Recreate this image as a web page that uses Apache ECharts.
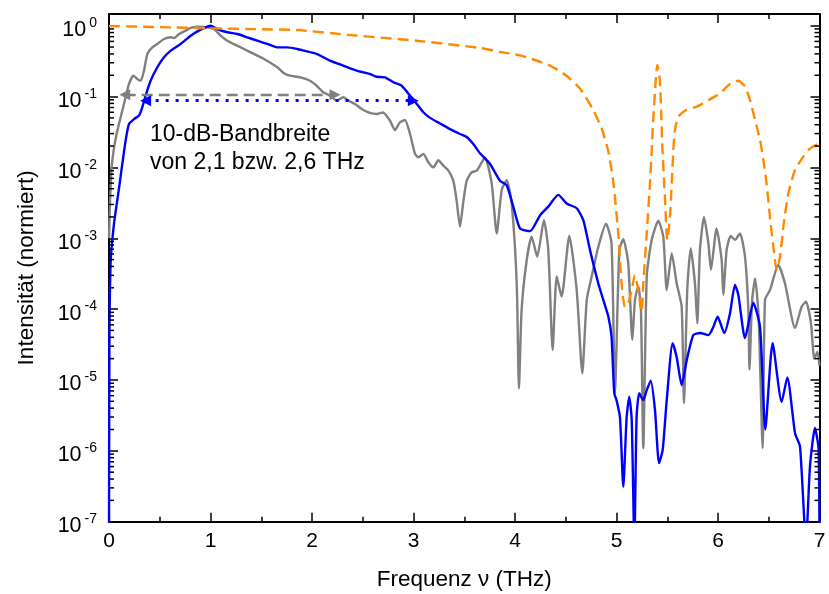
<!DOCTYPE html>
<html><head><meta charset="utf-8">
<script src="https://cdn.jsdelivr.net/npm/echarts@6/dist/echarts.min.js"></script>
<style>html,body{margin:0;padding:0;background:#fff}#c{width:829px;height:594px}</style>
</head><body><div id="c"></div>
<script>
// ---- data (frequency in THz, normalized intensity) ----
const grayFreq = [0,0.01,0.026,0.05,0.076,0.10,0.148,0.197,0.24,0.279,0.312,0.345,0.378,0.427,0.476,0.542,0.608,0.64,0.69,0.755,0.805,0.887,0.97,1.034,1.1,1.165,1.264,1.396,1.527,1.658,1.724,1.783,1.882,1.98,2.046,2.111,2.177,2.243,2.308,2.358,2.424,2.49,2.555,2.637,2.70,2.768,2.818,2.867,2.916,2.966,3.015,3.048,3.097,3.146,3.195,3.245,3.293,3.343,3.392,3.425,3.458,3.49,3.524,3.573,3.623,3.664,3.704,3.77,3.82,3.869,3.918,3.967,4.017,4.039,4.065,4.115,4.164,4.219,4.285,4.328,4.371,4.411,4.459,4.535,4.608,4.663,4.707,4.756,4.821,4.897,4.951,4.985,5.028,5.067,5.116,5.156,5.182,5.215,5.241,5.264,5.298,5.347,5.412,5.461,5.495,5.544,5.593,5.642,5.665,5.697,5.731,5.773,5.796,5.822,5.862,5.905,5.931,5.986,6.036,6.052,6.085,6.125,6.167,6.217,6.266,6.299,6.31,6.335,6.365,6.40,6.44,6.463,6.512,6.594,6.66,6.759,6.824,6.867,6.916,6.949,6.98,7.0];
const grayVals = [1.0e-3,3.2e-3,1.0e-2,1.9e-2,3.0e-2,4.2e-2,7.9e-2,0.151,0.197,0.177,0.167,0.232,0.399,0.495,0.552,0.649,0.686,0.67,0.764,0.851,0.929,0.968,0.948,0.897,0.723,0.614,0.522,0.421,0.339,0.259,0.213,0.197,0.187,0.167,0.142,0.115,0.103,0.0875,0.0977,0.0875,0.0785,0.0668,0.06,0.0568,0.0596,0.0457,0.0337,0.0434,0.0467,0.0296,0.0155,0.0139,0.0155,0.0118,0.010,0.0126,0.0106,0.0091,0.0065,0.0034,0.00146,0.0032,0.0065,0.0085,0.009,0.0112,0.0138,0.006,0.00117,0.0048,0.0066,0.0031,2.3e-4,7.6e-6,9.7e-5,4.9e-4,1.05e-3,5.5e-4,1.8e-3,6.8e-4,2.65e-5,2.9e-4,1.5e-4,1.08e-3,1.86e-4,1.24e-5,1.35e-4,2.9e-4,7.6e-4,1.6e-3,8.5e-4,6.5e-6,6.8e-4,9.7e-4,4.4e-4,3.7e-5,1.35e-4,2.1e-4,9.7e-5,1.09e-6,2.9e-4,9.5e-4,1.77e-3,1.05e-3,1.86e-4,6.1e-4,2.3e-4,1.08e-4,4.7e-6,1.86e-4,7.2e-4,2.3e-4,6.3e-5,6.8e-4,2.0e-3,8.5e-4,3.6e-4,1.38e-3,4.9e-4,1.6e-4,6.8e-4,1.08e-3,9.5e-4,1.17e-3,5.5e-4,9.7e-5,1.4e-5,1.26e-4,2.7e-4,7.9e-5,1.09e-6,1.35e-4,1.86e-4,4.2e-4,2.3e-4,5.4e-5,1.08e-4,1.27e-4,6.3e-5,2.0e-5,2.5e-5,1.6e-5];

const blueFreq = [0,0.004,0.016,0.049,0.098,0.131,0.164,0.197,0.246,0.296,0.328,0.361,0.41,0.476,0.542,0.608,0.706,0.805,0.903,1.0,1.067,1.165,1.264,1.362,1.461,1.559,1.658,1.757,1.855,1.921,2.046,2.177,2.308,2.44,2.571,2.637,2.719,2.801,2.883,2.966,3.032,3.097,3.163,3.261,3.36,3.458,3.524,3.589,3.655,3.754,3.852,3.918,3.983,4.049,4.148,4.246,4.328,4.426,4.509,4.608,4.673,4.739,4.821,4.87,4.92,4.951,4.978,5.0,5.034,5.067,5.1,5.126,5.15,5.176,5.198,5.224,5.264,5.298,5.337,5.379,5.419,5.455,5.495,5.553,5.593,5.642,5.692,5.757,5.823,5.905,5.954,5.996,6.062,6.118,6.167,6.2,6.266,6.348,6.414,6.466,6.538,6.627,6.683,6.759,6.808,6.867,6.906,6.955,6.99,7.0];
const blueVals = [3e-8,3.2e-5,4.5e-4,1.6e-3,5.0e-3,0.0112,0.024,0.041,0.048,0.054,0.0705,0.103,0.167,0.259,0.358,0.444,0.552,0.723,0.88,1.0,0.897,0.807,0.764,0.686,0.614,0.552,0.495,0.495,0.469,0.444,0.399,0.321,0.273,0.232,0.208,0.19,0.187,0.159,0.142,0.103,0.0785,0.06,0.05,0.0417,0.0347,0.0296,0.0269,0.0214,0.0158,0.0112,0.0065,0.0056,0.0028,1.38e-3,1.26e-3,2.1e-3,2.8e-3,4.1e-3,3.1e-3,2.65e-3,1.8e-3,6.8e-4,2.3e-4,1.35e-4,7.8e-5,4.1e-5,6.5e-6,5.2e-6,3.0e-6,3.1e-7,3.0e-6,5.8e-6,2.7e-6,5e-8,3.0e-6,6.5e-6,5.2e-6,7.2e-6,9.8e-6,3.8e-6,6.7e-7,1.03e-6,5.2e-6,3.3e-5,2.1e-5,8.5e-6,1.9e-5,4.3e-5,4.6e-5,4.3e-5,5.6e-5,7.8e-5,4.6e-5,8.7e-5,2.2e-4,1.6e-4,3.9e-5,1.23e-4,5.6e-5,2.0e-6,3.3e-5,4.9e-6,1.09e-5,1.77e-6,1.15e-6,5e-8,6.0e-7,2.1e-6,1.1e-6,5e-8];

const orangeFreq = [0,0.5,1.0,1.5,1.85,2.4,3.03,3.655,3.85,4.05,4.33,4.5,4.64,4.77,4.854,4.92,4.97,5.02,5.05,5.083,5.11,5.15,5.18,5.21,5.248,5.264,5.298,5.33,5.347,5.36,5.389,5.402,5.424,5.44,5.45,5.478,5.5,5.527,5.544,5.56,5.576,5.61,5.69,5.79,5.921,6.02,6.118,6.2,6.266,6.315,6.365,6.414,6.447,6.478,6.512,6.545,6.578,6.611,6.644,6.693,6.759,6.841,6.89,6.99,7.0];
const orangeVals = [0.99,0.955,0.918,0.89,0.869,0.733,0.614,0.484,0.427,0.38,0.28,0.2,0.13,0.065,0.0356,0.0166,0.006,1.05e-3,2.3e-4,1.08e-4,1.15e-4,1.86e-4,3.0e-4,2.0e-4,9.2e-5,2.3e-4,1.17e-3,6.0e-3,0.0176,0.042,0.19,0.279,0.19,0.065,0.0219,3.5e-3,9.5e-4,2.0e-3,6.0e-3,0.0176,0.0337,0.052,0.065,0.072,0.0914,0.111,0.15,0.167,0.138,0.0893,0.0467,0.0244,0.0127,6.0e-3,2.0e-3,7.6e-4,3.6e-4,5.5e-4,1.46e-3,4.3e-3,9.2e-3,0.0142,0.0176,0.0219,0.023];

// 10-dB bandwidth arrows: [start, end] in THz and level
const grayBand = [0.155, 2.227];
const grayBandLevel = 0.106;
const blueBand = [0.361, 2.998];
const blueBandLevel = 0.0875;

const xTickValues = [0,1,2,3,4,5,6,7];
const yDecades = [-7,-6,-5,-4,-3,-2,-1,0];
const annotationLines = ['10-dB-Bandbreite', 'von 2,1 bzw. 2,6 THz'];
const xTitle = 'Frequenz \u03bd (THz)';
const yTitle = 'Intensit\u00e4t (normiert)';

// ---- build ----
const zip = (a, b) => a.map((v, i) => [v, b[i]]);
const minorVals = [];
yDecades.forEach(d => { if (d < 0) for (let k = 2; k <= 9; k++) minorVals.push([0, k * Math.pow(10, d)]); });

const FONT = '"Liberation Sans", Arial, sans-serif';
const yMin = 1e-7, yMax = 1.462;

function yLabel(v) {
  const l = Math.log10(v);
  const e = Math.round(l);
  if (Math.abs(l - e) > 1e-6 || yDecades.indexOf(e) < 0) return '';
  return '{b|10}{s|' + e + '}';
}

const xAxisBase = {
  type: 'value', min: 0, max: 7, interval: 1,
  axisLine: { show: true, onZero: false, lineStyle: { color: '#000', width: 2 } },
  axisTick: { show: true, inside: true, length: 9, lineStyle: { color: '#000', width: 1.5 } },
  minorTick: { show: true, splitNumber: 2, length: 5, lineStyle: { color: '#000', width: 1.5 } },
  splitLine: { show: false }, minorSplitLine: { show: false }
};
const yAxisBase = {
  type: 'log', logBase: 10, min: yMin, max: yMax,
  axisLine: { show: true, onZero: false, lineStyle: { color: '#000', width: 2 } },
  axisTick: { show: true, inside: true, length: 9, lineStyle: { color: '#000', width: 1.5 } },
  minorTick: { show: false },
  splitLine: { show: false }
};

const option = {
  animation: false,
  backgroundColor: '#fff',
  textStyle: { fontFamily: FONT },
  grid: { left: 109, right: 9.5, top: 14, bottom: 72.3, containLabel: false, outerBoundsMode: 'none' },
  xAxis: [
    Object.assign({}, xAxisBase, {
      position: 'bottom',
      axisLabel: { show: true, color: '#000', fontSize: 21, fontFamily: FONT, margin: 9,
        formatter: v => (xTickValues.indexOf(v) >= 0 ? String(v) : '') },
      name: xTitle, nameLocation: 'middle', nameGap: 47,
      nameTextStyle: { color: '#000', fontSize: 22.5, fontFamily: FONT }
    }),
    Object.assign({}, xAxisBase, { position: 'top', axisLabel: { show: false } })
  ],
  yAxis: [
    Object.assign({}, yAxisBase, {
      position: 'left',
      axisLabel: { show: true, margin: 12, formatter: yLabel, align: 'right', padding: [6, 0, 0, 0],
        rich: {
          b: { fontSize: 21.5, color: '#000', fontFamily: FONT, verticalAlign: 'bottom', lineHeight: 25 },
          s: { fontSize: 14, color: '#000', fontFamily: FONT, verticalAlign: 'top', lineHeight: 25, padding: [0, 0, 0, 3] }
        } },
      name: yTitle, nameLocation: 'middle', nameGap: 71, nameRotate: 90,
      nameTextStyle: { color: '#000', fontSize: 22.5, fontFamily: FONT }
    }),
    Object.assign({}, yAxisBase, { position: 'right', axisLabel: { show: false } })
  ],
  series: [
    {
      type: 'line', name: 'gray', data: zip(grayFreq, grayVals), showSymbol: false, symbol: 'none',
      smooth: 0.2, lineStyle: { color: '#808080', width: 2.4 }, z: 2, silent: true,
      markLine: {
        silent: true, symbol: ['triangle', 'triangle'], symbolSize: 11,
        label: { show: false },
        lineStyle: { color: '#808080', width: 2.4, type: [11, 6] },
        itemStyle: { color: '#808080' },
        data: [[{ coord: [grayBand[0], grayBandLevel] }, { coord: [grayBand[1], grayBandLevel] }]]
      }
    },
    {
      type: 'line', name: 'blue', data: zip(blueFreq, blueVals), showSymbol: false, symbol: 'none',
      smooth: 0.2, lineStyle: { color: '#0000ff', width: 2.4 }, z: 3, silent: true,
      markLine: {
        silent: true, symbol: ['triangle', 'triangle'], symbolSize: 11,
        label: { show: false },
        lineStyle: { color: '#0000ff', width: 3, type: [3, 7] },
        itemStyle: { color: '#0000ff' },
        data: [[{ coord: [blueBand[0], blueBandLevel] }, { coord: [blueBand[1], blueBandLevel] }]]
      }
    },
    {
      type: 'line', name: 'orange', data: zip(orangeFreq, orangeVals), showSymbol: false, symbol: 'none',
      smooth: 0.2, lineStyle: { color: '#ff8a00', width: 2.4, type: [11, 6] }, z: 4, silent: true
    },
    {
      type: 'custom', name: 'minorTicks', xAxisIndex: 0, yAxisIndex: 0, silent: true, clip: false, z: 10,
      data: minorVals,
      renderItem: function (params, api) {
        const v = api.value(1);
        const p1 = api.coord([0, v]);
        const p2 = api.coord([7, v]);
        const st = { stroke: '#000', lineWidth: 1.5 };
        return { type: 'group', children: [
          { type: 'line', shape: { x1: p1[0], y1: p1[1], x2: p1[0] + 5, y2: p1[1] }, style: st },
          { type: 'line', shape: { x1: p2[0] - 5, y1: p2[1], x2: p2[0], y2: p2[1] }, style: st }
        ] };
      }
    }
  ],
  graphic: [
    { type: 'text', left: 150, top: 120, silent: true,
      style: { text: annotationLines.join('\n'), fill: '#000', fontSize: 23, lineHeight: 28.5, fontFamily: FONT } }
  ]
};

const chart = echarts.init(document.getElementById('c'), null, { renderer: 'canvas' });
chart.setOption(option);
</script>
</body></html>
